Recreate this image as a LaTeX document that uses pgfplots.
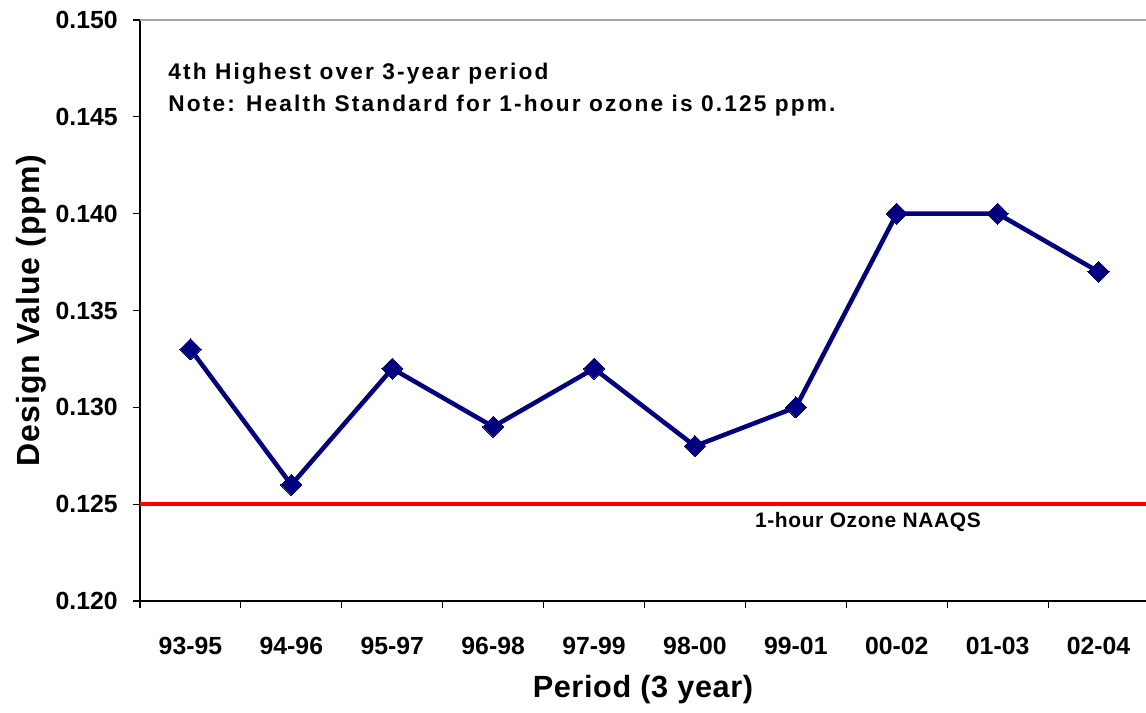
\documentclass[border=0pt]{standalone}
\usepackage{pgfplots}
\pgfplotsset{compat=1.18}
\usepackage{fontspec}
\setmainfont{Liberation Sans}
\definecolor{navyline}{RGB}{0,0,128}
\begin{document}
\begin{tikzpicture}
\begin{axis}[
  at={(0,0)}, anchor=south west,
  scale only axis,
  width=756.75pt, height=435.75pt,
  xmin=-0.5, xmax=9.5,
  ymin=0.120, ymax=0.150,
  axis lines*=left,
  axis line style={black, line width=1pt},
  xtick={0,...,9},
  xticklabels={93-95,94-96,95-97,96-98,97-99,98-00,99-01,00-02,01-03,02-04},
  major x tick style={draw=none},
  minor xtick={-0.5,0.5,...,9.5},
  minor x tick style={black, line width=0.8pt},
  minor tick length=5.25pt,
  ytick={0.120,0.125,...,0.150},
  y tick style={black, line width=0.8pt},
  major tick length=5.25pt,
  tick align=outside,
  yticklabel={\pgfmathprintnumber[fixed,fixed zerofill,precision=3]{\tick}},
  /pgf/number format/assume math mode=true,
  ticklabel style={font=\fontsize{18.6}{22}\selectfont\bfseries},
  yticklabel style={anchor=east, inner sep=0pt, xshift=-11.25pt},
  xticklabel style={anchor=base, inner sep=0pt, yshift=-35.25pt},
  xlabel={Period (3 year)},
  ylabel={Design Value (ppm)},
  xlabel style={font=\fontsize{23}{27}\selectfont\bfseries\addfontfeature{LetterSpace=2},
    at={(axis description cs:0.4985,-0.153)}, anchor=center},
  ylabel style={font=\fontsize{24}{28}\selectfont\bfseries\addfontfeature{LetterSpace=3},
    at={(axis description cs:-0.108,0.5)}, anchor=center},
  clip=false,
]
\draw[gray!70, line width=1pt] (axis cs:-0.5,0.150) -- (axis cs:9.5,0.150);
\addplot[red, line width=3pt] coordinates {(-0.5,0.125) (9.5,0.125)};
\addplot[navyline, line width=3.4pt, mark=square*, mark size=5.6pt,
  mark options={rotate=45, solid, fill=navyline, draw=navyline, line width=0pt}]
  coordinates {
  (0,0.133) (1,0.126) (2,0.132) (3,0.129) (4,0.132)
  (5,0.128) (6,0.130) (7,0.140) (8,0.140) (9,0.137)
  };
\node[anchor=base west, inner sep=0pt, font=\fontsize{17}{20}\selectfont\bfseries\addfontfeature{LetterSpace=9.5}]
  at (rel axis cs:0.0278,0.897) {4th Highest over 3-year period};
\node[anchor=base west, inner sep=0pt, font=\fontsize{17}{20}\selectfont\bfseries\addfontfeature{LetterSpace=9.5}]
  at (rel axis cs:0.0278,0.842) {Note: Health Standard for 1-hour ozone is 0.125 ppm.};
\node[anchor=base, inner sep=0pt, font=\fontsize{15.7}{18}\selectfont\bfseries\addfontfeature{LetterSpace=3}]
  at (axis cs:6.715,0.1238) {1-hour Ozone NAAQS};
\end{axis}
\pgfresetboundingbox
\path (-105pt,-84pt) rectangle (754.5pt,450.75pt);
\end{tikzpicture}
\end{document}
